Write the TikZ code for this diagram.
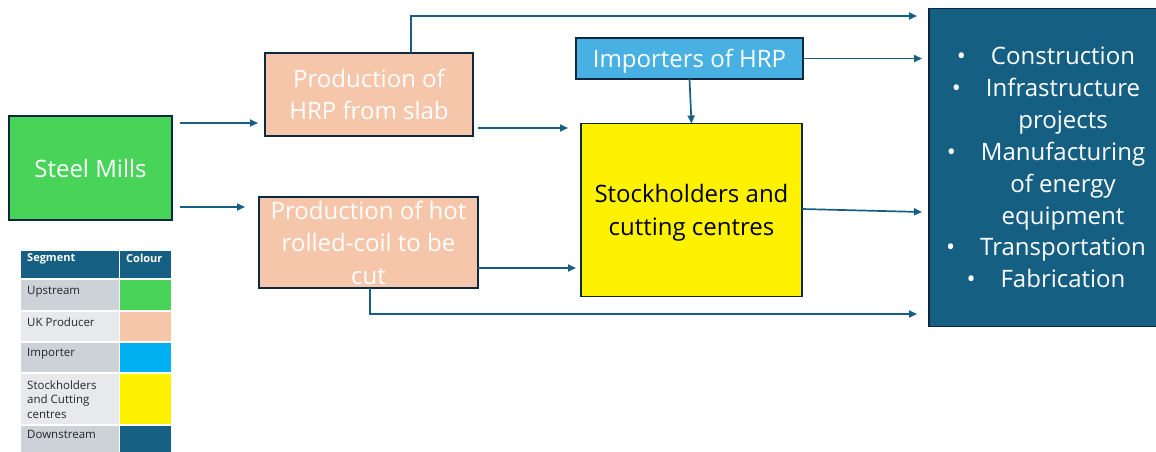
\documentclass[tikz,border=0pt]{standalone}
\usepackage{fontspec}
\setmainfont{Open Sans}
\usetikzlibrary{arrows.meta,calc}
\definecolor{mgreen}{RGB}{71,212,89}
\definecolor{peach}{RGB}{245,198,170}
\definecolor{impblue}{RGB}{72,176,226}
\definecolor{legblue}{RGB}{0,176,240}
\definecolor{dkblue}{RGB}{21,96,130}
\definecolor{edgecol}{RGB}{14,40,65}
\definecolor{rowdark}{RGB}{205,209,216}
\definecolor{rowlight}{RGB}{232,233,236}
\begin{document}
\begin{tikzpicture}[x=1pt,y=-1pt,
  box/.style={draw=edgecol,line width=1.8pt,inner sep=0pt,outer sep=0pt,
    font=\fontsize{24}{32.5}\selectfont,align=center,text=white},
  arr/.style={draw=dkblue,line width=1.7pt,-{Triangle[length=8pt,width=7pt]}},
  legcell/.style={draw=white,line width=1.5pt},
  legtxt/.style={anchor=north west,inner sep=0pt,align=left,
    font=\fontsize{11.5}{14.5}\selectfont,text=black!85}]
\useasboundingbox (0,0) rectangle (1156,452);
\fill[white] (0,0) rectangle (1156,452);

% main boxes
\node[box,fill=mgreen,minimum width=163pt,minimum height=104pt] (steel) at (90.5,168) {Steel Mills};
\node[box,fill=peach,minimum width=208pt,minimum height=83pt] (hrp) at (369,94.5) {Production of\\HRP from slab};
\node[box,fill=peach,minimum width=219pt,minimum height=91pt] (coil) at (368.5,242.5) {Production of hot\\rolled-coil to be\\cut};
\node[box,fill=impblue,minimum width=227pt,minimum height=41pt,text depth=0pt] (imp) at (689.5,58.5) {Importers of HRP};
\node[box,fill=yellow,text=black,minimum width=221pt,minimum height=173pt,text depth=0pt] (stock) at (691.5,210) {Stockholders and\\cutting centres};
\node[box,fill=dkblue,minimum width=268pt,minimum height=318pt,font=\fontsize{24}{31.9}\selectfont] (down) at (1063,167.5) {%
\llap{\textbullet\hspace{25pt}}Construction\\
\llap{\textbullet\hspace{25pt}}Infrastructure\\
projects\\
\llap{\textbullet\hspace{25pt}}Manufacturing\\
of energy\\
equipment\\
\llap{\textbullet\hspace{25pt}}Transportation\\
\llap{\textbullet\hspace{25pt}}Fabrication};

% connectors
\draw[arr] ($(steel.east)+(8,-45)$) -- ($(hrp.west)+(-7,28.5)$);
\draw[arr] ($(steel.east)+(8,39)$) -- ($(coil.west)+(-14,-35.5)$);
\draw[arr] ($(hrp.east)+(5,33.5)$) -- ($(stock.west)+(-13,-82)$);
\draw[arr] ($(coil.east)+(0,25.5)$) -- ($(stock.west)+(-5,58)$);
\draw[arr] (imp.south) -- (stock.north);
\draw[arr] (imp.east) -- ($(down.west)+(-7,-109)$);
\draw[arr] ($(stock.east)+(0,-1)$) -- ($(down.west)+(-7,44.5)$);
\draw[arr] ($(hrp.north)+(42,0)$) |- ($(down.west)+(-12,-151.5)$);
\draw[arr] ($(coil.south)+(1.5,0)$) |- ($(down.west)+(-12,146.5)$);

% legend table
\path[legcell,fill=dkblue] (20,250) rectangle (119.5,279);
\path[legcell,fill=dkblue] (119.5,250) rectangle (172,279);
\path[legcell,fill=rowdark] (20,279) rectangle (119.5,311);
\path[legcell,fill=mgreen] (119.5,279) rectangle (172,311);
\path[legcell,fill=rowlight] (20,311) rectangle (119.5,342);
\path[legcell,fill=peach] (119.5,311) rectangle (172,342);
\path[legcell,fill=rowdark] (20,342) rectangle (119.5,373);
\path[legcell,fill=legblue] (119.5,342) rectangle (172,373);
\path[legcell,fill=rowlight] (20,373) rectangle (119.5,425);
\path[legcell,fill=yellow] (119.5,373) rectangle (172,425);
\path[legcell,fill=rowdark] (20,425) rectangle (119.5,460);
\path[legcell,fill=dkblue] (119.5,425) rectangle (172,460);

\node[legtxt,text=white,font=\fontsize{11}{14.5}\selectfont\bfseries] (lh1) at (27,253.5) {Segment};
\node[legtxt,text=white,font=\fontsize{11}{14.5}\selectfont\bfseries] (lh2) at (126,253.5) {Colour};
\node[legtxt] (l1) at (27,286.5) {Upstream};
\node[legtxt] (l2) at (27,317.5) {UK Producer};
\node[legtxt] (l3) at (27,348.5) {Importer};
\node[legtxt] (l4) at (27,380.5) {Stockholders\\and Cutting\\centres};
\node[legtxt] (l5) at (27,430.5) {Downstream};
\end{tikzpicture}
\end{document}
